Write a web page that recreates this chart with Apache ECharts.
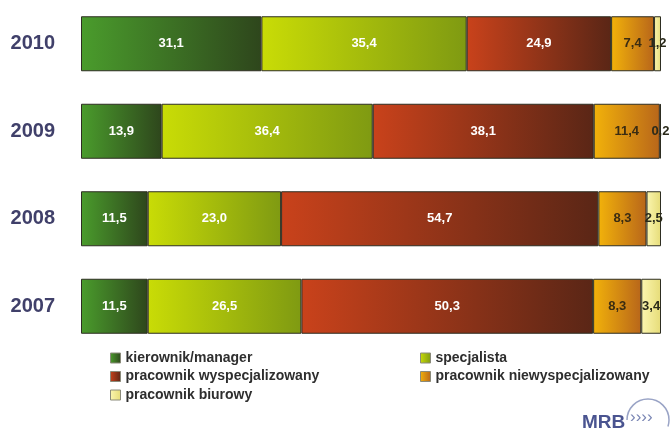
<!DOCTYPE html>
<html><head><meta charset="utf-8">
<script src="https://cdn.jsdelivr.net/npm/echarts@6/dist/echarts.min.js"></script>
<style>html,body{margin:0;padding:0;background:#fff}#c{width:672px;height:434px}</style>
</head><body><div id="c"></div>
<script>
const years = ['2010', '2009', '2008', '2007'];
const seriesNames = ['kierownik/manager', 'specjalista', 'pracownik wyspecjalizowany', 'pracownik niewyspecjalizowany', 'pracownik biurowy'];
const kierownik = [31.1, 13.9, 11.5, 11.5];
const specjalista = [35.4, 36.4, 23.0, 26.5];
const wyspecjalizowany = [24.9, 38.1, 54.7, 50.3];
const niewyspecjalizowany = [7.4, 11.4, 8.3, 8.3];
const biurowy = [1.2, 0.2, 2.5, 3.4];
const values = [kierownik, specjalista, wyspecjalizowany, niewyspecjalizowany, biurowy];

const grads = [
  ['#4a9c2c', '#2e461c'],
  ['#c9dc06', '#7f9a12'],
  ['#c9421b', '#5a2616'],
  ['#f2b20a', '#b8661a'],
  ['#fbf6b0', '#e6dc78']
];
const labelColors = ['#ffffff', '#ffffff', '#ffffff', '#3a2c12', '#2a2a1a'];
const FONT = 'Liberation Sans, Arial, sans-serif';

function grad(c) {
  return new echarts.graphic.LinearGradient(0, 0, 1, 0, [{offset: 0, color: c[0]}, {offset: 1, color: c[1]}]);
}

const series = seriesNames.map((n, i) => ({
  name: n,
  type: 'bar',
  stack: 'all',
  barWidth: 55,
  data: values[i],
  itemStyle: {color: grad(grads[i]), borderColor: '#2e2e22', borderWidth: 1},
  label: {
    show: true,
    position: 'inside',
    color: labelColors[i],
    fontFamily: FONT,
    fontWeight: 'bold',
    fontSize: 13,
    formatter: p => p.value.toFixed(1).replace('.', ',')
  },
  emphasis: {disabled: true}
}));

const legendBase = {
  orient: 'vertical', top: 351, padding: 0, itemWidth: 10, itemHeight: 10, itemGap: 4.5,
  icon: 'rect',
  itemStyle: {borderColor: '#8a8a7a', borderWidth: 1},
  textStyle: {fontSize: 14, fontWeight: 'bold', color: '#2e2e2e', fontFamily: FONT}
};

const chart = echarts.init(document.getElementById('c'), null, {renderer: 'canvas'});
chart.setOption({
  animation: false,
  backgroundColor: '#ffffff',
  grid: {left: 81, right: 11, top: -3, bottom: 84},
  xAxis: {type: 'value', min: 0, max: 100, show: false},
  yAxis: {
    type: 'category', data: years, inverse: true,
    axisLine: {show: false}, axisTick: {show: false},
    axisLabel: {fontSize: 20, fontWeight: 'bold', color: '#40406a', margin: 26, fontFamily: FONT}
  },
  legend: [
    Object.assign({}, legendBase, {data: [seriesNames[0], seriesNames[2], seriesNames[4]], left: 110}),
    Object.assign({}, legendBase, {data: [seriesNames[1], seriesNames[3]], left: 420})
  ],
  graphic: [
    {type: 'text', left: 582, top: 413, style: {text: 'MRB', font: 'bold 19px "Liberation Sans", Arial, sans-serif', fill: '#4a5490'}},
    {type: 'arc', shape: {cx: 648, cy: 420, r: 21, startAngle: Math.PI * 1.0, endAngle: Math.PI * 2.1}, style: {stroke: '#9aa4c6', lineWidth: 1.5, fill: null}},
    {type: 'text', left: 630, top: 409, style: {text: '››››', font: '17px "Liberation Sans", Arial, sans-serif', fill: '#7a86b4'}}
  ],
  series: series
});
</script></body></html>
